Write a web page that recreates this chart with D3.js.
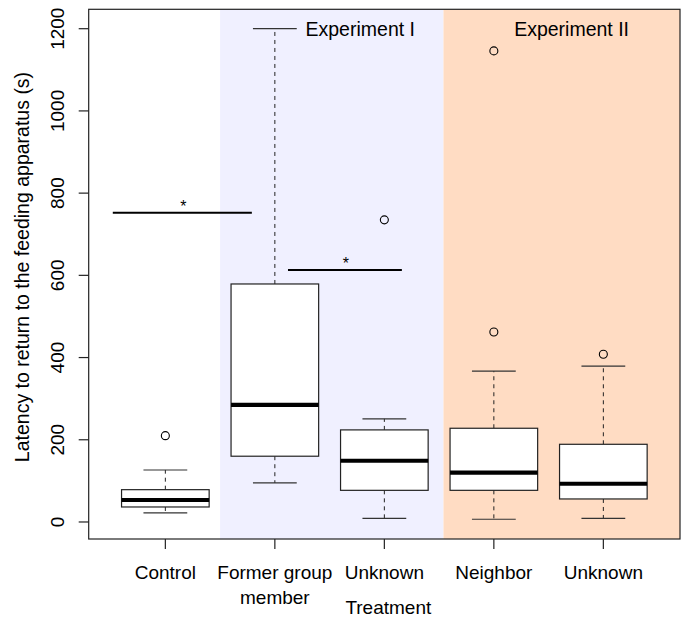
<!DOCTYPE html>
<html>
<head>
<meta charset="utf-8">
<script src="https://cdn.jsdelivr.net/npm/d3@7/dist/d3.min.js"></script>
<style>
  html, body { margin: 0; padding: 0; background: #fff; }
  svg { display: block; }
  text { font-family: "Liberation Sans", Arial, Helvetica, sans-serif; fill: #000; }
</style>
</head>
<body>
<svg id="chart" width="685" height="619"></svg>
<script>
// ---- data ----
const tickLabels = [["Control"], ["Former group", "member"], ["Unknown"], ["Neighbor"], ["Unknown"]];
const lowerWhisker = [22, 95, 9, 6.6, 9];
const q1 = [36.5, 160, 77, 77, 56];
const median = [53.5, 285, 149, 120, 93];
const q3 = [78.6, 579, 224, 228, 189];
const upperWhisker = [126.5, 1200, 251, 367, 379];
const outliers = [[210], [], [735], [462, 1146], [408]];
const yTicks = [0, 200, 400, 600, 800, 1000, 1200];

const expNames = ["Experiment I", "Experiment II"];
const expStart = [1.5, 3.54];
const expEnd = [3.54, 5.7];
const expColors = ["#F0F0FF", "#FFDCC3"];
const expLabelX = [2.78, 4.71];
const expLabelY = [1200, 1200];

const sigStart = [0.52, 2.12];
const sigEnd = [1.79, 3.16];
const sigY = [752, 613];
const sigLabel = ["*", "*"];

const yTitle = "Latency to return to the feeding apparatus (s)";
const xTitle = "Treatment";

// ---- layout ----
const svg = d3.select("#chart");
const L = 88.7, R = 680, T = 9.3, B = 539;
const x = d3.scaleLinear().domain([0.3, 5.7]).range([L, R]);
const y = d3.scaleLinear().domain([-41.4, 1247.2]).range([B, T]);
const unit = x(2) - x(1);
const boxW = 0.8 * unit, capW = 0.4 * unit;
const FS = 19;

// backgrounds
svg.selectAll("rect.bg").data(expNames).enter().append("rect")
  .attr("class", "bg")
  .attr("x", (d, i) => x(expStart[i]))
  .attr("y", T)
  .attr("width", (d, i) => x(expEnd[i]) - x(expStart[i]))
  .attr("height", B - T)
  .attr("fill", (d, i) => expColors[i]);

// boxes
const idx = d3.range(tickLabels.length);
const g = svg.append("g");
idx.forEach(i => {
  const cx = x(i + 1);
  g.append("line").attr("x1", cx).attr("x2", cx).attr("y1", y(q3[i])).attr("y2", y(upperWhisker[i]))
    .attr("stroke", "#222").attr("stroke-width", 1).attr("stroke-dasharray", "4,4");
  g.append("line").attr("x1", cx).attr("x2", cx).attr("y1", y(q1[i])).attr("y2", y(lowerWhisker[i]))
    .attr("stroke", "#222").attr("stroke-width", 1).attr("stroke-dasharray", "4,4");
  [lowerWhisker[i], upperWhisker[i]].forEach(v => {
    g.append("line").attr("x1", cx - capW / 2).attr("x2", cx + capW / 2)
      .attr("y1", y(v)).attr("y2", y(v)).attr("stroke", "#333").attr("stroke-width", 1.2);
  });
  g.append("rect").attr("x", cx - boxW / 2).attr("y", y(q3[i]))
    .attr("width", boxW).attr("height", y(q1[i]) - y(q3[i]))
    .attr("fill", "#fff").attr("stroke", "#222").attr("stroke-width", 1.2);
  g.append("line").attr("x1", cx - boxW / 2).attr("x2", cx + boxW / 2)
    .attr("y1", y(median[i])).attr("y2", y(median[i]))
    .attr("stroke", "#000").attr("stroke-width", 4.2);
  outliers[i].forEach(v => {
    g.append("circle").attr("cx", cx).attr("cy", y(v)).attr("r", 4)
      .attr("fill", "none").attr("stroke", "#000").attr("stroke-width", 1.1);
  });
});

// significance lines
sigY.forEach((v, i) => {
  svg.append("line").attr("x1", x(sigStart[i])).attr("x2", x(sigEnd[i]))
    .attr("y1", y(v)).attr("y2", y(v)).attr("stroke", "#000").attr("stroke-width", 2);
  svg.append("text").attr("x", (x(sigStart[i]) + x(sigEnd[i])) / 2 + 1).attr("y", y(v) - 1)
    .attr("text-anchor", "middle").attr("font-size", 16).text(sigLabel[i]);
});

// experiment labels
expNames.forEach((n, i) => {
  svg.append("text").attr("x", x(expLabelX[i])).attr("y", y(expLabelY[i]))
    .attr("dy", "0.35em").attr("text-anchor", "middle").attr("font-size", 19.5).text(n);
});

// frame
svg.append("rect").attr("x", L).attr("y", T).attr("width", R - L).attr("height", B - T)
  .attr("fill", "none").attr("stroke", "#222").attr("stroke-width", 1.2);

// y axis ticks
yTicks.forEach(t => {
  svg.append("line").attr("x1", L - 10).attr("x2", L).attr("y1", y(t)).attr("y2", y(t))
    .attr("stroke", "#222").attr("stroke-width", 1.2);
  svg.append("text").attr("transform", `translate(64,${y(t)}) rotate(-90)`)
    .attr("text-anchor", "middle").attr("font-size", FS).text(t);
});

// x axis ticks
idx.forEach(i => {
  const cx = x(i + 1);
  svg.append("line").attr("x1", cx).attr("x2", cx).attr("y1", B).attr("y2", B + 10)
    .attr("stroke", "#222").attr("stroke-width", 1.2);
  tickLabels[i].forEach((s, j) => {
    svg.append("text").attr("x", cx).attr("y", 579 + j * 25)
      .attr("text-anchor", "middle").attr("font-size", FS).text(s);
  });
});

// axis titles
svg.append("text").attr("x", (L + R) / 2 + 4).attr("y", 614)
  .attr("text-anchor", "middle").attr("font-size", FS).text(xTitle);
svg.append("text").attr("transform", `translate(29,267) rotate(-90)`)
  .attr("text-anchor", "middle").attr("font-size", 19.5).text(yTitle);
</script>
</body>
</html>
